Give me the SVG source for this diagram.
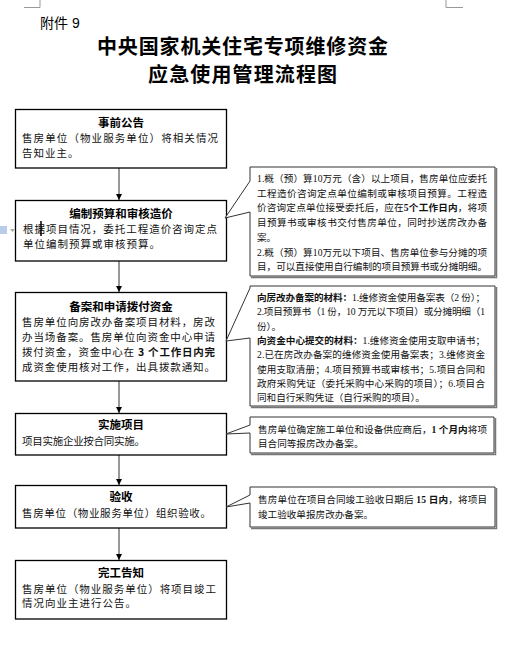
<svg xmlns="http://www.w3.org/2000/svg" width="508" height="648" viewBox="0 0 508 648">
<defs>
<style>
.t{font-family:"Liberation Sans","Noto Sans CJK SC",sans-serif;fill:#000}
.h{font-family:"Noto Sans CJK SC",sans-serif;font-weight:bold;fill:#000}
.bt{font-family:"Noto Sans CJK SC",sans-serif;font-weight:bold;font-size:11.5px;fill:#000;text-anchor:middle}
.bd{font-family:"Noto Sans CJK SC",sans-serif;font-size:10.5px;letter-spacing:1px;fill:#111}
.cd{font-family:"Liberation Serif","Noto Sans CJK SC",serif;font-size:9.6px;fill:#111}
.b{font-weight:bold}
.box{fill:#fff;stroke:#000;stroke-width:1.3}
.call{fill:#fff;stroke:#333;stroke-width:1}
.shadow{fill:none;stroke:#777;stroke-width:1.5}
.mark{stroke:#999;stroke-width:1;fill:none}
.conn{stroke:#333;stroke-width:1;fill:none;marker-end:url(#arr)}
</style>
<marker id="arr" viewBox="0 0 8 8" refX="8" refY="4" markerWidth="6" markerHeight="6" markerUnits="userSpaceOnUse" orient="auto">
<path d="M0,0 L8,4 L0,8 Z" fill="#000"/>
</marker>
</defs>
<rect width="508" height="648" fill="#fff"/>
<g id="marks">
<path class="mark" d="M40,0 V7.5 H24"/>
<path class="mark" d="M446,0 V7.5 H463"/>
</g>
<g id="header">
<text class="t" x="40" y="28" font-size="14">附件 9</text>
<text class="h" x="97" y="54" font-size="20" textLength="291" lengthAdjust="spacing">中央国家机关住宅专项维修资金</text>
<text class="h" x="148" y="82" font-size="20" textLength="189" lengthAdjust="spacing">应急使用管理流程图</text>
</g>
<g id="connectors">
<line class="conn" x1="119" y1="168" x2="119" y2="200"/>
<line class="conn" x1="119" y1="261" x2="119" y2="292"/>
<line class="conn" x1="119" y1="381" x2="119" y2="413"/>
<line class="conn" x1="119" y1="455" x2="119" y2="485"/>
<line class="conn" x1="119" y1="528" x2="119" y2="560"/>
</g>
<g id="n1">
<rect class="box" x="15.5" y="109.5" width="211" height="58.5"/>
<text class="bt" x="121" y="127">事前公告</text>
<text class="bd" x="22" y="142" textLength="197" lengthAdjust="spacing">售房单位（物业服务单位）将相关情况</text>
<text class="bd" x="22" y="157">告知业主。</text>
</g>
<g id="n2">
<rect class="box" x="15.5" y="200.5" width="211" height="60.5"/>
<text class="bt" x="121" y="218">编制预算和审核造价</text>
<text class="bd" x="23" y="233" textLength="195" lengthAdjust="spacing">根据项目情况，委托工程造价咨询定点</text>
<text class="bd" x="23" y="248">单位编制预算或审核预算。</text>
<line x1="41" y1="221" x2="41" y2="236" stroke="#000" stroke-width="1.5"/>
</g>
<g id="anchor">
<rect x="0" y="226" width="7" height="8" fill="#b8cde8"/>
<path d="M10,229 L15,229 L12.5,232 Z" fill="#aaa"/>
</g>
<g id="n3">
<rect class="box" x="15.5" y="292.5" width="211" height="88.5"/>
<text class="bt" x="121" y="311">备案和申请拨付资金</text>
<text class="bd" x="22" y="326" textLength="194" lengthAdjust="spacing">售房单位向房改办备案项目材料，房改</text>
<text class="bd" x="22" y="341" textLength="194" lengthAdjust="spacing">办当场备案。售房单位向资金中心申请</text>
<text class="bd" x="22" y="356" textLength="194" lengthAdjust="spacing">拨付资金，资金中心在 <tspan class="b">3 个工作日内完</tspan></text>
<text class="bd" x="22" y="371" textLength="194" lengthAdjust="spacing">成资金使用核对工作，出具拨款通知。</text>
</g>
<g id="n4">
<rect class="box" x="15.5" y="413.5" width="211" height="41.5"/>
<text class="bt" x="121" y="429">实施项目</text>
<text class="bd" x="22" y="445" textLength="124" lengthAdjust="spacing">项目实施企业按合同实施。</text>
</g>
<g id="n5">
<rect class="box" x="15.5" y="485.5" width="211" height="42.5"/>
<text class="bt" x="121" y="501">验收</text>
<text class="bd" x="22" y="517" textLength="190" lengthAdjust="spacing">售房单位（物业服务单位）组织验收。</text>
</g>
<g id="n6">
<rect class="box" x="15.5" y="560.5" width="211" height="58.5"/>
<text class="bt" x="121" y="577">完工告知</text>
<text class="bd" x="22" y="593" textLength="195" lengthAdjust="spacing">售房单位（物业服务单位）将项目竣工</text>
<text class="bd" x="22" y="607">情况向业主进行公告。</text>
</g>
<g id="c1">
<path class="shadow" d="M496.5,168 V277.5 H251"/>
<path class="call" d="M250,167 H495 V276 H250 V212 L225,218 L250,181 Z"/>
<text class="cd" x="257" y="182" textLength="230" lengthAdjust="spacing">1.概（预）算10万元（含）以上项目，售房单位应委托</text>
<text class="cd" x="257" y="196.7" textLength="230" lengthAdjust="spacing">工程造价咨询定点单位编制或审核项目预算。工程造</text>
<text class="cd" x="257" y="211.4" textLength="230" lengthAdjust="spacing">价咨询定点单位接受委托后，应在<tspan class="b">5个工作日内</tspan>，将项</text>
<text class="cd" x="257" y="226.1" textLength="230" lengthAdjust="spacing">目预算书或审核书交付售房单位，同时抄送房改办备</text>
<text class="cd" x="257" y="240.8">案。</text>
<text class="cd" x="257" y="255.5" textLength="230" lengthAdjust="spacing">2.概（预）算10万元以下项目、售房单位参与分摊的项</text>
<text class="cd" x="257" y="270.2" textLength="230" lengthAdjust="spacing">目，可以直接使用自行编制的项目预算书或分摊明细。</text>
</g>
<g id="c2">
<path class="shadow" d="M496.5,287 V407.5 H251"/>
<path class="call" d="M250,286 H495 V406 H250 V338 L226,341 L250,288 Z"/>
<text class="cd" x="257" y="301" textLength="228" lengthAdjust="spacing"><tspan class="b">向房改办备案的材料：</tspan>1.维修资金使用备案表（2 份）；</text>
<text class="cd" x="257" y="315.3" textLength="228" lengthAdjust="spacing">2.项目预算书（1 份，10 万元以下项目）或分摊明细（1</text>
<text class="cd" x="257" y="329.6">份）。</text>
<text class="cd" x="257" y="343.9" textLength="228" lengthAdjust="spacing"><tspan class="b">向资金中心提交的材料：</tspan>1.维修资金使用支取申请书；</text>
<text class="cd" x="257" y="358.2" textLength="228" lengthAdjust="spacing">2.已在房改办备案的维修资金使用备案表；3.维修资金</text>
<text class="cd" x="257" y="372.5" textLength="228" lengthAdjust="spacing">使用支取清册；4.项目预算书或审核书；5.项目合同和</text>
<text class="cd" x="257" y="386.8" textLength="228" lengthAdjust="spacing">政府采购凭证（委托采购中心采购的项目）；6.项目合</text>
<text class="cd" x="257" y="401.1">同和自行采购凭证（自行采购的项目）。</text>
</g>
<g id="c3">
<path class="shadow" d="M495.5,418 V454.5 H251"/>
<path class="call" d="M250,417 H494 V453 H250 V433 L226,434 L250,425 Z"/>
<text class="cd" x="258" y="433" textLength="229" lengthAdjust="spacing">售房单位确定施工单位和设备供应商后，<tspan class="b">1 个月内</tspan>将项</text>
<text class="cd" x="258" y="447">目合同等报房改办备案。</text>
</g>
<g id="c4">
<path class="shadow" d="M496.5,488 V528.5 H251"/>
<path class="call" d="M250,487 H495 V527 H250 V503 L226,507 L250,495 Z"/>
<text class="cd" x="258" y="503" textLength="229" lengthAdjust="spacing">售房单位在项目合同竣工验收日期后 <tspan class="b">15 日内</tspan>，将项目</text>
<text class="cd" x="258" y="518">竣工验收单报房改办备案。</text>
</g>
</svg>
